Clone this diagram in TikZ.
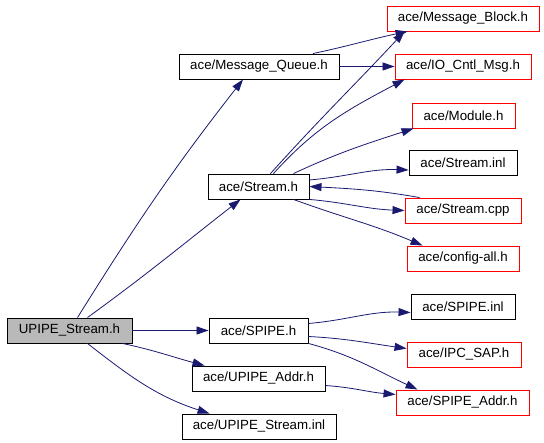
\documentclass[tikz,border=0pt]{standalone}
\usepackage{fontspec}
\setmainfont{Liberation Sans}
\usetikzlibrary{arrows.meta}
\definecolor{edgeblue}{RGB}{25,25,112}
\tikzset{
	file/.style={draw=black, line width=0.9pt, minimum height=25pt, inner sep=0pt, font=\fontsize{13.3}{15}\selectfont},
	extfile/.style={file, draw=red},
	dep/.style={draw=edgeblue, line width=0.8pt, -{Triangle[length=12pt,width=8pt]}}
}
\begin{document}
\begin{tikzpicture}[x=1pt, y=-1pt]
	\useasboundingbox (0,0) rectangle (544,443);
	% files
	\node[file, fill=gray!55, minimum width=125pt] (up) at (69.5,330.5) {UPIPE\_Stream.h};
	\node[file, minimum width=160pt] (mq) at (259,66.5) {ace/Message\_Queue.h};
	\node[file, minimum width=101pt] (st) at (258.5,186.5) {ace/Stream.h};
	\node[file, minimum width=99pt] (sp) at (258.5,330.5) {ace/SPIPE.h};
	\node[file, minimum width=133pt] (ua) at (258.5,378.5) {ace/UPIPE\_Addr.h};
	\node[file, minimum width=154pt] (usi) at (259,426.5) {ace/UPIPE\_Stream.inl};
	\node[extfile, minimum width=152pt] (mb) at (463,18.5) {ace/Message\_Block.h};
	\node[extfile, minimum width=136pt] (io) at (463,66.5) {ace/IO\_Cntl\_Msg.h};
	\node[extfile, minimum width=103pt] (mod) at (463.5,115.5) {ace/Module.h};
	\node[file, minimum width=108pt] (sinl) at (463,163) {ace/Stream.inl};
	\node[extfile, minimum width=116pt] (scpp) at (463,210.5) {ace/Stream.cpp};
	\node[extfile, minimum width=112pt] (cfg) at (463,258.5) {ace/config-all.h};
	\node[file, minimum width=104pt] (spinl) at (463,306.5) {ace/SPIPE.inl};
	\node[extfile, minimum width=114pt] (ipc) at (464,354.5) {ace/IPC\_SAP.h};
	\node[extfile, minimum width=133pt] (sa) at (462.5,402.5) {ace/SPIPE\_Addr.h};

	% includes of UPIPE_Stream.h
	\draw[dep] ([xshift=8pt]up.north) to[out=58, in=-128] ([xshift=-16pt]mq.south);
	\draw[dep] ([xshift=18pt]up.north) to[out=36, in=-142] ([xshift=-18pt]st.south);
	\draw[dep] (up.east) -- (sp.west);
	\draw[dep] ([xshift=-10pt]up.south east) to[out=-12, in=165] ([xshift=13pt]ua.north west);
	\draw[dep] ([xshift=18pt]up.south) to[out=-38, in=162] ([xshift=28pt]usi.north west);

	% ace/Message_Queue.h
	\draw[dep] ([xshift=54pt]mq.north) to[out=12, in=-168] ([xshift=21pt]mb.south west);
	\draw[dep] (mq.east) -- (io.west);

	% ace/Stream.h
	\draw[dep] ([xshift=12pt]st.north) to[out=48, in=-133] ([xshift=18pt]mb.south west);
	\draw[dep] ([xshift=15pt]st.north) to[out=48, in=-152] ([xshift=10pt]io.south west);
	\draw[dep] ([xshift=35pt]st.north) to[out=25, in=-162] ([xshift=2pt]mod.south west);
	\draw[dep] ([yshift=6.5pt]st.east) to[out=5, in=178] ([yshift=-7pt]sinl.west);
	\draw[dep] ([xshift=15pt]scpp.north west) to[out=170, in=-3] (st.east);
	\draw[dep] (st.south east) to[out=-5, in=178] (scpp.west);
	\draw[dep] ([xshift=-16pt]st.south east) to[out=-20, in=157] ([xshift=16pt]cfg.north west);

	% ace/SPIPE.h and ace/UPIPE_Addr.h
	\draw[dep] ([yshift=7pt]sp.east) to[out=5, in=178] ([yshift=-6pt]spinl.west);
	\draw[dep] ([yshift=-6pt]sp.east) to[out=-3, in=172] ([yshift=6pt]ipc.west);
	\draw[dep] (sp.south east) to[out=-15, in=155] ([xshift=22pt]sa.north west);
	\draw[dep] ([yshift=-7pt]ua.east) to[out=-4, in=175] ([yshift=8pt]sa.west);
\end{tikzpicture}
\end{document}
